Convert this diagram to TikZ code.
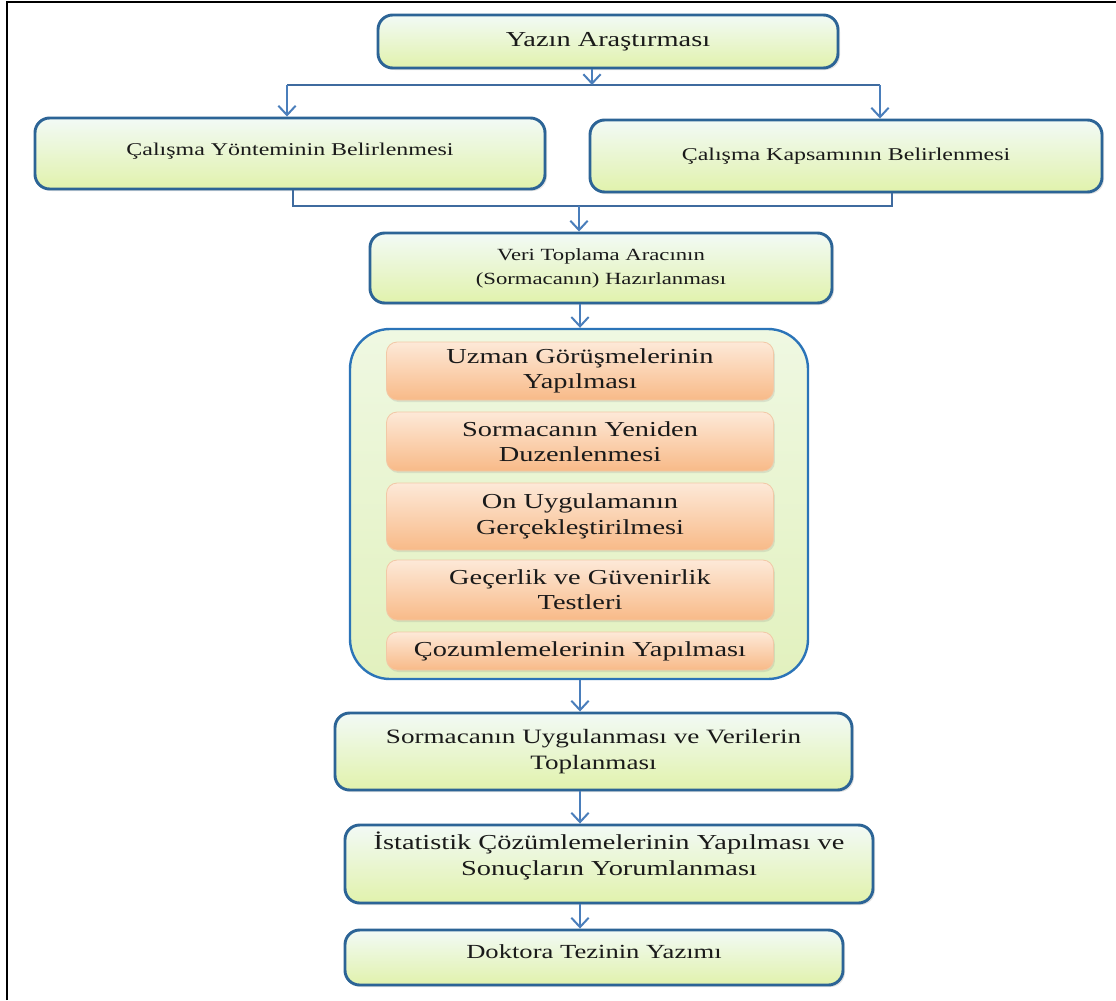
\documentclass[tikz,border=0pt]{standalone}
\usepackage{fontspec}
\setmainfont{Liberation Serif}[FakeStretch=1.33]
\usetikzlibrary{arrows.meta,shadows,calc}
\definecolor{boxborder}{HTML}{2C6496}
\definecolor{boxtop}{HTML}{F2FAF6}
\definecolor{boxbot}{HTML}{E1F2AC}
\definecolor{orgtop}{HTML}{FDE9D8}
\definecolor{orgbot}{HTML}{F8BA88}
\definecolor{orgline}{HTML}{F2C8A6}
\definecolor{arrowc}{HTML}{4A7EBB}
\definecolor{contborder}{HTML}{2B74B8}
\definecolor{conttop}{HTML}{EFF8E2}
\definecolor{contbot}{HTML}{E2F1BE}
\definecolor{txt}{HTML}{1A1A1A}
\begin{document}
\begin{tikzpicture}[x=0.75pt,y=-0.75pt,
  gbox/.style={draw=boxborder, line width=2.2pt, rounded corners=11pt,
    top color=boxtop, bottom color=boxbot, align=center, inner sep=0pt,
    text=txt,
    drop shadow={opacity=0.22, shadow xshift=1.5pt, shadow yshift=-1.5pt}},
  obox/.style={draw=orgline, line width=0.6pt, rounded corners=8pt,
    top color=orgtop, bottom color=orgbot, align=center, inner sep=0pt,
    minimum width=290.25pt, text=txt,
    drop shadow={opacity=0.18, shadow xshift=1pt, shadow yshift=-1.5pt}},
  cbox/.style={draw=contborder, line width=1.8pt, rounded corners=30pt,
    top color=conttop, bottom color=contbot, inner sep=0pt},
  arr/.style={draw=arrowc, line width=1.5pt, -{Straight Barb[length=7pt,width=13pt]}},
  ln/.style={draw=arrowc!85!black, line width=1.5pt},
  fA/.style={font=\fontsize{16pt}{19pt}\selectfont},
  fB/.style={font=\fontsize{13.5pt}{18pt}\selectfont},
  fC/.style={font=\fontsize{12.8pt}{18pt}\selectfont},
  fD/.style={font=\fontsize{15.3pt}{19pt}\selectfont},
  fE/.style={font=\fontsize{15pt}{19pt}\selectfont},
]
\useasboundingbox (0,0) rectangle (1116,1000);
\fill[white] (0,0) rectangle (1116,1000);
\draw[line width=1.5pt] (7,1000) -- (7,1.5) -- (1116,1.5);

% main boxes
\node[gbox, fA, minimum width=345pt, minimum height=39.75pt] (top) at (608,41.5) {Yazın Araştırması};
\node[gbox, fB, minimum width=382.5pt, minimum height=53.25pt, text depth=7pt] (L) at (290,153.5) {Çalışma Yönteminin Belirlenmesi};
\node[gbox, fB, minimum width=384pt, minimum height=54pt] (R) at (846,156) {Çalışma Kapsamının Belirlenmesi};
\node[gbox, fC, minimum width=346.5pt, minimum height=52.5pt] (V) at (601,268) {Veri Toplama Aracının\\(Sormacanın) Hazırlanması};

% container
\node[cbox, minimum width=343.5pt, minimum height=262.5pt] (C) at (579,504) {};
\node[obox, fA, minimum height=43.5pt] (o1) at (580,371) {Uzman Görüşmelerinin\\Yapılması};
\node[obox, fA, minimum height=44.25pt] (o2) at (580,441.5) {Sormacanın Yeniden\\Duzenlenmesi};
\node[obox, fA, minimum height=50.25pt] (o3) at (580,516.5) {On Uygulamanın\\Gerçekleştirilmesi};
\node[obox, fA, minimum height=45pt] (o4) at (580,590) {Geçerlik ve Güvenirlik\\Testleri};
\node[obox, fA, minimum height=28.5pt] (o5) at (580,651) {Çozumlemelerinin Yapılması};

\node[gbox, fD, minimum width=387.75pt, minimum height=57.75pt] (S) at (593.5,751.5) {Sormacanın Uygulanması ve Verilerin\\Toplanması};
\node[gbox, fA, minimum width=396pt, minimum height=58.5pt, text depth=15.5pt] (I) at (609,864) {İstatistik Çözümlemelerinin Yapılması ve\\Sonuçların Yorumlanması};
\node[gbox, fE, minimum width=373.5pt, minimum height=41.25pt, text depth=9.3pt] (D) at (594,957.5) {Doktora Tezinin Yazımı};

% connectors
\coordinate (j0) at (592,85);
\coordinate (jl) at (287,85);
\coordinate (jr) at (880,85);
\draw[ln] (jl) -- (jr);
\draw[arr] (top.south -| j0) -- (j0);
\draw[arr] (jl) -- (jl |- L.north);
\draw[arr] (jr) -- (jr |- R.north);

\coordinate (bl) at (293,206);
\coordinate (br) at (892,206);
\coordinate (bm) at (579,206);
\draw[ln] (bl |- L.south) -- (bl) -- (br) -- (br |- R.south);
\draw[arr] (bm) -- (bm |- V.north);

\coordinate (ax) at (580,0);
\draw[arr] (V.south -| ax) -- (C.north -| ax);
\draw[arr] (C.south -| ax) -- (S.north -| ax);
\draw[arr] (S.south -| ax) -- (I.north -| ax);
\draw[arr] (I.south -| ax) -- (D.north -| ax);
\end{tikzpicture}
\end{document}
